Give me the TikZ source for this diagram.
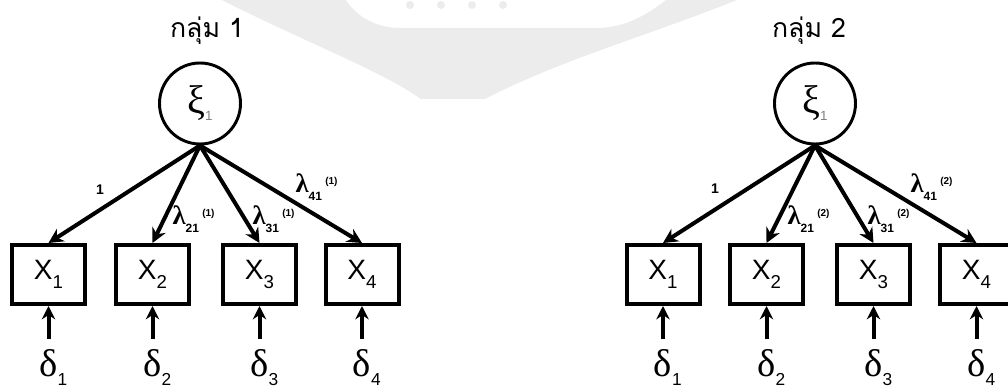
\documentclass[tikz,border=0pt]{standalone}
\usepackage{fontspec}
\setmainfont{Liberation Sans}
\newfontfamily\thaifont[Script=Thai]{Loma}
\newfontfamily\greekfont{Liberation Serif}
\usetikzlibrary{arrows.meta}

\newcommand{\obsvar}[1]{\fontsize{21}{24}\selectfont X\raisebox{-7pt}{\fontsize{14}{16}\selectfont #1}}
\newcommand{\errvar}[1]{{\greekfont\fontsize{29}{32}\selectfont δ}\rlap{\raisebox{-6pt}{\fontsize{13}{15}\selectfont #1}}}
\newcommand{\latvar}{{\greekfont\fontsize{30}{32}\selectfont ξ}\raisebox{-5pt}{\color{gray}\fontsize{10}{12}\selectfont 1}}
\newcommand{\loadlab}[2]{{\greekfont\bfseries\fontsize{20}{22}\selectfont λ}\raisebox{-6pt}{\bfseries\fontsize{9}{10}\selectfont #1}\hspace{2.5pt}\raisebox{6pt}{\bfseries\fontsize{7.5}{9}\selectfont (#2)}}

\tikzset{every picture/.style={line width=0.75pt}}
\tikzset{
  latent/.style={circle, draw, line width=2.2pt, minimum size=60.75pt, inner sep=0pt},
  observed/.style={rectangle, draw, line width=3pt, minimum width=54.75pt, minimum height=44.25pt, inner sep=0pt},
  errnode/.style={anchor=base, inner xsep=0pt, inner ysep=8pt},
  loading/.style={line width=3pt, -{Stealth[length=11pt,width=11pt]}},
  errarrow/.style={line width=3pt, -{Stealth[length=10pt,width=10pt]}},
  grouptitle/.style={font=\thaifont\fontsize{20}{24}\selectfont},
  lamlabel/.style={anchor=base west, inner sep=0pt},
  onelabel/.style={font=\bfseries\fontsize{10.5}{12}\selectfont, inner sep=0pt},
}

\begin{document}
\begin{tikzpicture}[x=0.75pt,y=0.75pt,yscale=-1,xscale=1]
	\useasboundingbox (0,0) rectangle (1008,392);

	%Shape: Watermark
	\fill[gray!15] (222,0) .. controls (300,40) and (380,70) .. (421,99) -- (485,99) .. controls (560,60) and (650,35) .. (737,0) -- (666,0) .. controls (640,20) and (620,28) .. (595,28) -- (400,28) .. controls (375,28) and (355,15) .. (346,0) -- cycle ;
	\fill[gray!15] (410,5) circle (4) (441,5) circle (4) (472,5) circle (4) (503,5) circle (4) ;

	% Text Node
	\node[grouptitle] (titleL) at (207,31) {กลุ่ม 1};
	% Text Node
	\node[grouptitle] (titleR) at (809,31) {กลุ่ม 2};

	%Shape: Circle
	\node[latent] (xiL) at (200,103.5) {\latvar};
	%Shape: Circle
	\node[latent] (xiR) at (815,103.5) {\latvar};

	%Shape: Rectangle
	\node[observed] (xL1) at (48.5,274.5) {\obsvar{1}};
	\node[observed] (xL2) at (152.5,274.5) {\obsvar{2}};
	\node[observed] (xL3) at (259.5,274.5) {\obsvar{3}};
	\node[observed] (xL4) at (362,274.5) {\obsvar{4}};
	%Shape: Rectangle
	\node[observed] (xR1) at (663,274.5) {\obsvar{1}};
	\node[observed] (xR2) at (766.5,274.5) {\obsvar{2}};
	\node[observed] (xR3) at (873.5,274.5) {\obsvar{3}};
	\node[observed] (xR4) at (976.5,274.5) {\obsvar{4}};

	% Text Node
	\node[errnode] (dL1) at (48.5,377) {\errvar{1}};
	\node[errnode] (dL2) at (152.5,377) {\errvar{2}};
	\node[errnode] (dL3) at (259.5,377) {\errvar{3}};
	\node[errnode] (dL4) at (362,377) {\errvar{4}};
	% Text Node
	\node[errnode] (dR1) at (663,377) {\errvar{1}};
	\node[errnode] (dR2) at (766.5,377) {\errvar{2}};
	\node[errnode] (dR3) at (873.5,377) {\errvar{3}};
	\node[errnode] (dR4) at (976.5,377) {\errvar{4}};

	%Straight Lines
	\draw[loading] (xiL.south) -- (xL1.north);
	\draw[loading] (xiL.south) -- (xL2.north);
	\draw[loading] (xiL.south) -- (xL3.north);
	\draw[loading] (xiL.south) -- (xL4.north);
	%Straight Lines
	\draw[loading] (xiR.south) -- (xR1.north);
	\draw[loading] (xiR.south) -- (xR2.north);
	\draw[loading] (xiR.south) -- (xR3.north);
	\draw[loading] (xiR.south) -- (xR4.north);

	%Straight Lines
	\draw[errarrow] (dL1) -- (xL1);
	\draw[errarrow] (dL2) -- (xL2);
	\draw[errarrow] (dL3) -- (xL3);
	\draw[errarrow] (dL4) -- (xL4);
	%Straight Lines
	\draw[errarrow] (dR1) -- (xR1);
	\draw[errarrow] (dR2) -- (xR2);
	\draw[errarrow] (dR3) -- (xR3);
	\draw[errarrow] (dR4) -- (xR4);

	% Text Node
	\node[onelabel] (oneL) at (100,190) {1};
	\node[lamlabel] (lamL2) at (172,225) {\loadlab{21}{1}};
	\node[lamlabel] (lamL3) at (252,225) {\loadlab{31}{1}};
	\node[lamlabel] (lamL4) at (295,193) {\loadlab{41}{1}};
	% Text Node
	\node[onelabel] (oneR) at (715,189) {1};
	\node[lamlabel] (lamR2) at (787,225) {\loadlab{21}{2}};
	\node[lamlabel] (lamR3) at (867,225) {\loadlab{31}{2}};
	\node[lamlabel] (lamR4) at (910,193) {\loadlab{41}{2}};

\end{tikzpicture}
\end{document}
